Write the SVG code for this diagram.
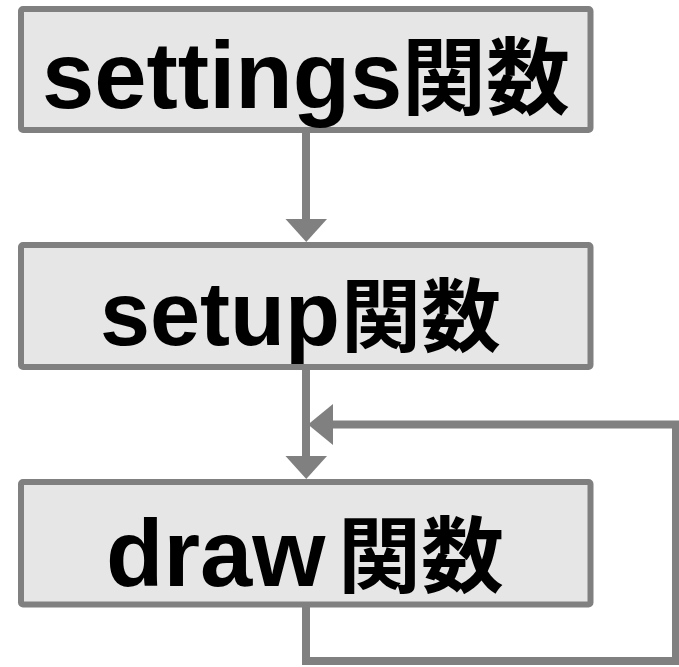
<svg xmlns="http://www.w3.org/2000/svg" width="679" height="667" viewBox="0 0 679 667">
<style>
.box{fill:#e6e6e6;stroke:#808080;stroke-width:6}
.lbl{font-family:"Liberation Sans","Noto Sans CJK JP",sans-serif;font-weight:bold;font-size:94px;fill:#000}
.cjk{font-family:"Noto Sans CJK JP",sans-serif;font-size:82px}
.edge{fill:none;stroke:#808080;stroke-width:8}
.head{fill:#808080}
</style>
<rect width="679" height="667" fill="#fff"/>
<g id="connectors">
<line class="edge" x1="306" y1="133" x2="306" y2="222"/>
<polygon class="head" points="285.5,219 327,219 306.25,242"/>
<line class="edge" x1="306" y1="370" x2="306" y2="459"/>
<polygon class="head" points="285.5,456 327,456 306.25,479"/>
<polyline class="edge" points="306,607 306,661 676,661 676,424.5 330,424.5"/>
<polygon class="head" points="333,404 333,445 308,424.5"/>
</g>
<g id="settings">
<rect class="box" x="21" y="9" width="569.5" height="121" rx="2"/>
<text class="lbl" x="42" y="108">settings<tspan class="cjk" x="402" style="font-size:84px">関数</tspan></text>
</g>
<g id="setup">
<rect class="box" x="21" y="245" width="569.5" height="122" rx="2"/>
<text class="lbl" x="100" y="345" style="font-size:90px">setup<tspan class="cjk" x="341" style="font-size:80px">関数</tspan></text>
</g>
<g id="draw">
<rect class="box" x="21" y="482" width="569.5" height="122.5" rx="2"/>
<text class="lbl" x="106" y="586">draw<tspan class="cjk" x="338" style="font-size:83px">関数</tspan></text>
</g>
</svg>
